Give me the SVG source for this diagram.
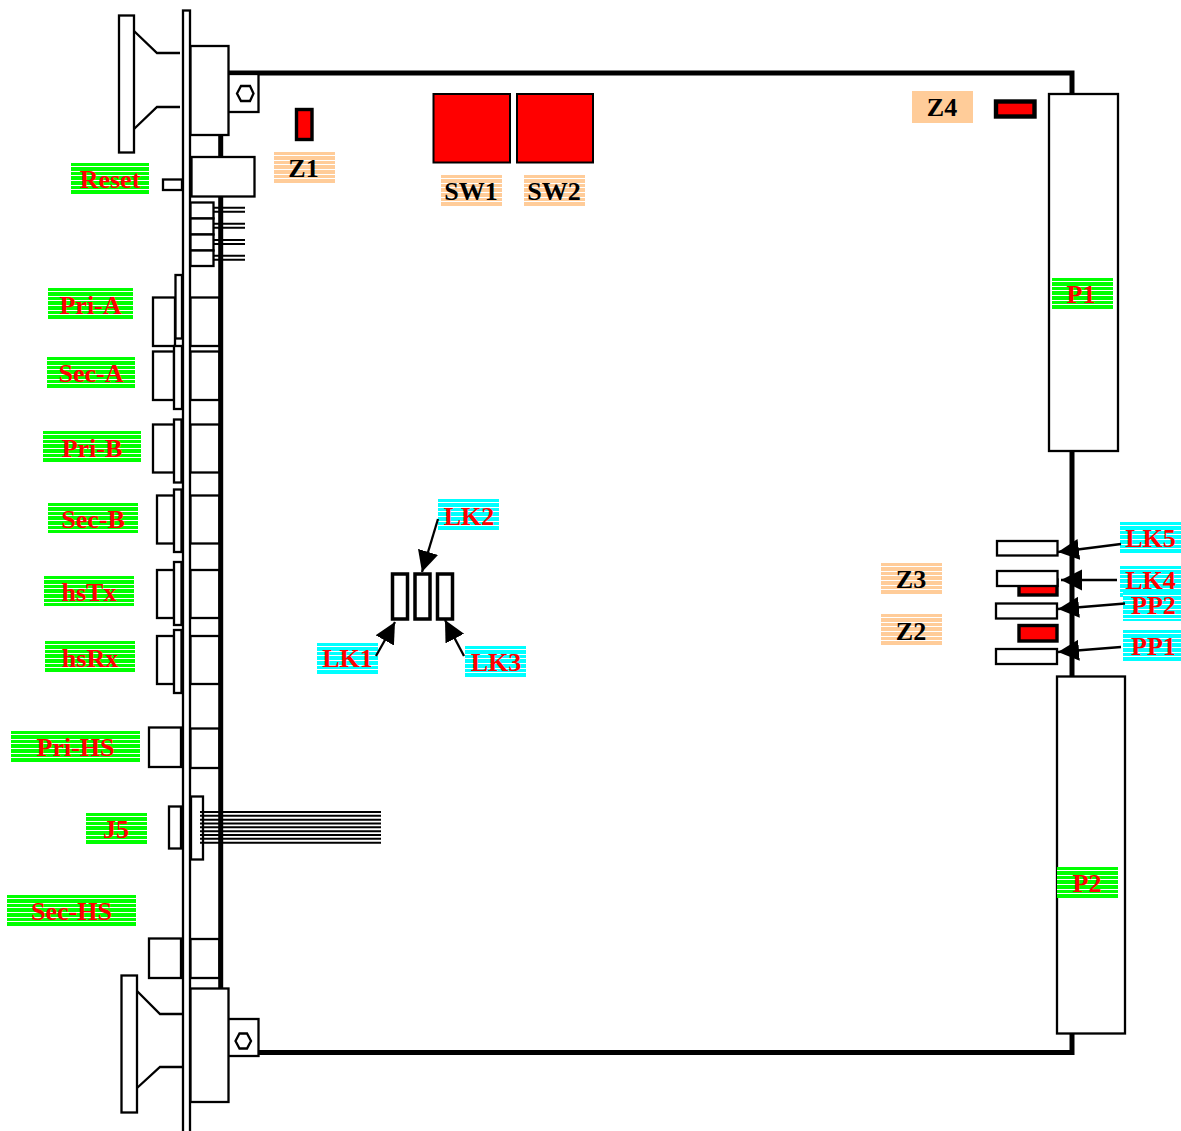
<svg xmlns="http://www.w3.org/2000/svg" width="1181" height="1131" viewBox="0 0 1181 1131">
<defs>
<pattern id="sg" patternUnits="userSpaceOnUse" width="10" height="14"><rect width="10" height="14" fill="#00ff00"/><path d="M0 3.5H10M0 8.5H10M0 12.500H10" stroke="#fff" stroke-width="1"/></pattern>
<pattern id="sc" patternUnits="userSpaceOnUse" width="10" height="14"><rect width="10" height="14" fill="#00ffff"/><path d="M0 3.5H10M0 8.5H10M0 12.500H10" stroke="#fff" stroke-width="1"/></pattern>
<pattern id="so" patternUnits="userSpaceOnUse" width="10" height="14"><rect width="10" height="14" fill="#ffcc99"/><path d="M0 3.5H10M0 8.5H10M0 12.500H10" stroke="#fff" stroke-width="1"/></pattern>
<marker id="ah" markerUnits="userSpaceOnUse" markerWidth="22" markerHeight="22" refX="21" refY="10.5" orient="auto"><path d="M0 0L21 10.5L0 21Z" fill="#000"/></marker>
</defs>
<style>
.b{fill:#fff;stroke:#000;stroke-width:2.3}
.t{fill:none;stroke:#000;stroke-width:2.3}
.p{fill:none;stroke:#000;stroke-width:2}
.r{fill:#f00;stroke:#000;stroke-width:3.4}
.j{fill:#fff;stroke:#000;stroke-width:3.5}
.board{fill:none;stroke:#000;stroke-width:5}
.a{fill:none;stroke:#000;stroke-width:2.3;marker-end:url(#ah)}
text{font-family:"Liberation Serif","Times New Roman",serif;font-weight:700;font-size:26px;text-anchor:middle;fill:#f00}
.k{fill:#000}
.g{fill:url(#sg)}.c{fill:url(#sc)}.o{fill:url(#so)}
</style>
<rect width="1181" height="1131" fill="#fff"/>
<g id="board"><path class="board" d="M228 73H1072V1052.500H259"/></g>
<g id="panel"><rect class="b" x="183" y="10.5" width="7" height="1125"/></g>
<g id="ejector-top"><rect class="b" x="119" y="15.5" width="15" height="137"/><path class="t" d="M134 31L157 53H180M134 129L157 107H180"/></g>
<g id="leds"><rect class="b" x="190.500" y="202.500" width="23" height="16"/><rect class="b" x="190.500" y="218.500" width="23" height="16"/><rect class="b" x="190.500" y="234.500" width="23" height="16"/><rect class="b" x="190.500" y="250.500" width="23" height="15.500"/></g>
<g id="conn-pri-a"><rect class="b" x="153" y="297.500" width="22" height="48.500"/><rect class="b" x="175.500" y="275" width="6.500" height="63.500"/><rect class="b" x="190.500" y="297.500" width="29" height="48.500"/></g>
<g id="conn-sec-a"><rect class="b" x="153" y="351.500" width="21" height="48.500"/><rect class="b" x="174" y="346" width="8" height="63"/><rect class="b" x="190.500" y="351.500" width="29" height="48.500"/></g>
<g id="conn-pri-b"><rect class="b" x="153" y="424.500" width="21" height="48"/><rect class="b" x="174" y="419.500" width="7.500" height="63"/><rect class="b" x="190.500" y="424.500" width="29" height="48"/></g>
<g id="conn-sec-b"><rect class="b" x="157" y="495.500" width="17" height="48"/><rect class="b" x="174" y="489.500" width="7.500" height="62.500"/><rect class="b" x="190.500" y="495.500" width="29" height="48"/></g>
<g id="conn-hstx"><rect class="b" x="157" y="570" width="17" height="48"/><rect class="b" x="174" y="562" width="7.500" height="63"/><rect class="b" x="190.500" y="570" width="29" height="48"/></g>
<g id="conn-hsrx"><rect class="b" x="157" y="636" width="17" height="48"/><rect class="b" x="174" y="630" width="7.500" height="63"/><rect class="b" x="190.500" y="636" width="29" height="48"/></g>
<g id="conn-pri-hs"><rect class="b" x="149" y="727.500" width="32" height="39.500"/><rect class="b" x="190.500" y="728.500" width="29" height="39.500"/></g>
<g id="conn-sec-hs"><rect class="b" x="149" y="938.500" width="32" height="39.500"/><rect class="b" x="190.500" y="939" width="29" height="39"/></g>
<g id="board-left"><path class="board" d="M220.700 135V990"/></g>
<g id="led-pins"><path class="p" d="M213 207.700H245M213 211.700H245M213 223.700H245M213 227.700H245M213 240H245M213 244H245M213 255.700H245M213 259.700H245"/></g>
<g id="conn-j5"><rect class="b" x="169" y="806.500" width="12" height="42"/><rect class="b" x="191" y="796.500" width="12" height="63"/><path class="p" d="M200 812H381M200 815.800H381M200 819.700H381M200 823.500H381M200 827.300H381M200 831.200H381M200 835H381M200 838.800H381M200 842.700H381"/></g>
<g id="ejector-bottom"><rect class="b" x="121.500" y="975.500" width="15.500" height="137"/><path class="t" d="M137 991L160 1014H182M137 1088L160 1067H182"/></g>
<g id="mount-top"><rect class="b" x="228" y="74" width="30.500" height="38"/><path class="t" d="M237 93.500L241 86H250L253.500 93.500L250 101H241Z"/><rect class="b" x="190.500" y="46" width="38" height="89"/></g>
<g id="reset-switch"><rect class="b" x="163" y="179.500" width="19" height="10.500"/><rect class="b" x="191.500" y="157" width="63" height="39.500"/></g>
<g id="mount-bottom"><rect class="b" x="228" y="1019" width="30.500" height="37"/><path class="t" d="M235.500 1041L239.500 1033.500H247L251 1041L247 1048.500H239.500Z"/><rect class="b" x="190.500" y="988.500" width="38" height="113.500"/></g>
<g id="p1"><rect class="b" x="1049" y="94" width="69" height="357"/></g>
<g id="p2"><rect class="b" x="1057" y="676.500" width="68" height="357"/></g>
<g id="z1-part"><rect class="r" x="296.500" y="109.500" width="15.500" height="30"/></g>
<g id="z4-part"><rect class="r" style="stroke-width:4.400" x="996" y="101.500" width="38.500" height="15"/></g>
<g id="sw1-part"><rect class="r" style="stroke-width:2" x="433.500" y="94" width="76.500" height="68.500"/></g>
<g id="sw2-part"><rect class="r" style="stroke-width:2" x="517" y="94" width="76" height="68.500"/></g>
<g id="z3-part"><rect class="r" x="1019" y="580" width="38" height="15"/></g>
<g id="z2-part"><rect class="r" x="1019" y="625.500" width="38" height="15.500"/></g>
<g id="lk1-part"><rect class="j" x="392.500" y="574" width="15" height="45"/></g>
<g id="lk2-part"><rect class="j" x="415" y="574" width="15" height="45"/></g>
<g id="lk3-part"><rect class="j" x="437.500" y="574" width="15" height="45"/></g>
<g id="lk5-part"><rect class="b" x="997" y="541" width="60.500" height="14.500"/></g>
<g id="lk4-part"><rect class="b" x="997" y="571" width="60.500" height="15"/></g>
<g id="pp2-part"><rect class="b" x="996" y="603.500" width="61" height="15"/></g>
<g id="pp1-part"><rect class="b" x="996" y="649" width="61" height="15"/></g>
<g id="label-reset" transform="translate(71 163)"><rect class="g" width="78" height="31"/><text x="39" y="24.500">Reset</text></g>
<g id="label-pri-a" transform="translate(48 288)"><rect class="g" width="85" height="32"/><text x="42.500" y="26">Pri-A</text></g>
<g id="label-sec-a" transform="translate(47 357)"><rect class="g" width="88" height="32"/><text x="44" y="25">Sec-A</text></g>
<g id="label-pri-b" transform="translate(43 431)"><rect class="g" width="98" height="32"/><text x="49" y="26">Pri-B</text></g>
<g id="label-sec-b" transform="translate(48 503)"><rect class="g" width="90" height="30"/><text x="45" y="25">Sec-B</text></g>
<g id="label-hstx" transform="translate(44 576)"><rect class="g" width="90" height="30"/><text x="45" y="25">hsTx</text></g>
<g id="label-hsrx" transform="translate(45 641)"><rect class="g" width="90" height="32"/><text x="45" y="26">hsRx</text></g>
<g id="label-pri-hs" transform="translate(11 731)"><rect class="g" width="129" height="32"/><text x="64.500" y="25">Pri-HS</text></g>
<g id="label-j5" transform="translate(86 813)"><rect class="g" width="61" height="32"/><text x="30" y="25">J5</text></g>
<g id="label-sec-hs" transform="translate(7 895)"><rect class="g" width="129" height="31"/><text x="64.500" y="25">Sec-HS</text></g>
<g id="label-p1" transform="translate(1052 278)"><rect class="g" width="61" height="32"/><text x="29" y="25">P1</text></g>
<g id="label-p2" transform="translate(1057 867)"><rect class="g" width="61" height="31"/><text x="30" y="25">P2</text></g>
<g id="label-z1" transform="translate(274 152)"><rect class="o" width="61" height="32"/><text class="k" x="29.500" y="25">Z1</text></g>
<g id="label-sw1" transform="translate(441 175)"><rect class="o" width="61" height="31"/><text class="k" x="30" y="25">SW1</text></g>
<g id="label-sw2" transform="translate(524 175)"><rect class="o" width="61" height="31"/><text class="k" x="30" y="25">SW2</text></g>
<g id="label-z4" transform="translate(912 91)"><rect width="61" height="32" fill="#ffcc99"/><text class="k" x="30" y="25">Z4</text></g>
<g id="label-z3" transform="translate(881 563)"><rect class="o" width="61" height="31"/><text class="k" x="30" y="25">Z3</text></g>
<g id="label-z2" transform="translate(881 614)"><rect class="o" width="61" height="31"/><text class="k" x="30" y="26">Z2</text></g>
<g id="label-lk2" transform="translate(438 499)"><rect class="c" width="61" height="32"/><text x="31" y="25.500">LK2</text></g>
<g id="label-lk1" transform="translate(317 643)"><rect class="c" width="61" height="31"/><text x="30.500" y="24">LK1</text></g>
<g id="label-lk3" transform="translate(465 646)"><rect class="c" width="61" height="32"/><text x="31" y="25">LK3</text></g>
<g id="label-lk5" transform="translate(1120 522)"><rect class="c" width="61" height="32"/><text x="30.500" y="25">LK5</text></g>
<g id="label-lk4" transform="translate(1120 566)"><rect class="c" width="61" height="32"/><text x="30.500" y="23">LK4</text></g>
<g id="label-pp2" transform="translate(1123 592)"><rect class="c" width="58" height="29"/><text x="30.500" y="22">PP2</text></g>
<g id="label-pp1" transform="translate(1123 630)"><rect class="c" width="58" height="31"/><text x="30.500" y="25">PP1</text></g>
<g id="connectors">
<path class="a" d="M438 519L422 572"/>
<path class="a" d="M376 656L395 622"/>
<path class="a" d="M464 656L445 620"/>
<path class="a" d="M1121 544L1058 552"/>
<path class="a" d="M1117 580L1061 580"/>
<path class="a" d="M1125 603.500L1058 609"/>
<path class="a" d="M1121 647L1058 652"/>
</g>
</svg>
